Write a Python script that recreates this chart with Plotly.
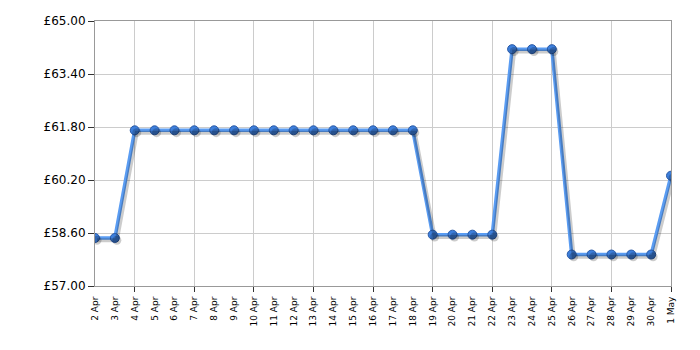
import plotly.graph_objects as go

dates = ["2 Apr", "3 Apr", "4 Apr", "5 Apr", "6 Apr", "7 Apr", "8 Apr", "9 Apr", "10 Apr",
         "11 Apr", "12 Apr", "13 Apr", "14 Apr", "15 Apr", "16 Apr", "17 Apr", "18 Apr",
         "19 Apr", "20 Apr", "21 Apr", "22 Apr", "23 Apr", "24 Apr", "25 Apr", "26 Apr",
         "27 Apr", "28 Apr", "29 Apr", "30 Apr", "1 May"]
prices = [58.45, 58.45, 61.70, 61.70, 61.70, 61.70, 61.70, 61.70, 61.70,
          61.70, 61.70, 61.70, 61.70, 61.70, 61.70, 61.70, 61.70,
          58.55, 58.55, 58.55, 58.55, 64.15, 64.15, 64.15, 57.95,
          57.95, 57.95, 57.95, 57.95, 60.33]
y_ticks = [57.00, 58.60, 60.20, 61.80, 63.40, 65.00]
y_labels = ["£%.2f" % v for v in y_ticks]
grid_idx = [2, 5, 8, 11, 14, 17, 20, 23, 26, 29]

x = list(range(len(dates)))
xr = [0, len(dates) - 1]
yr = [57, 65]

fig = go.Figure()
# shadow
fig.add_trace(go.Scatter(x=x, y=prices, xaxis="x2", yaxis="y2", mode="lines+markers",
                         line=dict(color="rgba(0,0,0,0.2)", width=4),
                         marker=dict(size=9, color="rgba(0,0,0,0.2)"),
                         hoverinfo="skip", showlegend=False))
fig.add_trace(go.Scatter(x=x, y=prices, mode="lines+markers",
                         line=dict(color="#5a9cf2", width=3.5),
                         marker=dict(size=9, color="#3d7fdc", line=dict(color="#2a5aa6", width=1)),
                         showlegend=False))

fig.update_layout(
    width=700, height=350,
    margin=dict(l=95, r=29, t=21, b=64),
    plot_bgcolor="white", paper_bgcolor="white",
    font=dict(family="DejaVu Sans", color="black"),
    xaxis=dict(range=xr, tickmode="array", tickvals=x, ticktext=dates,
               tickangle=-90, tickfont=dict(size=9), ticks="", showgrid=False,
               ticklabelstandoff=6,
               showline=True, linecolor="#999999", mirror=True, zeroline=False,
               minor=dict(tickmode="array", tickvals=grid_idx, ticks="outside", ticklen=5,
                          tickcolor="#333333", showgrid=True, gridcolor="#cccccc", gridwidth=1)),
    yaxis=dict(range=yr, tickmode="array", tickvals=y_ticks, ticktext=y_labels,
               tickfont=dict(size=12), ticks="outside", ticklen=6, tickcolor="#333333",
               showgrid=True, gridcolor="#cccccc", showline=True, linecolor="#999999",
               mirror=True, zeroline=False),
    xaxis2=dict(range=[xr[0] - 0.1, xr[1] - 0.1], overlaying="x", visible=False),
    yaxis2=dict(range=[yr[0] + 0.07, yr[1] + 0.07], overlaying="y", visible=False),
)

fig.write_html("out.html")
